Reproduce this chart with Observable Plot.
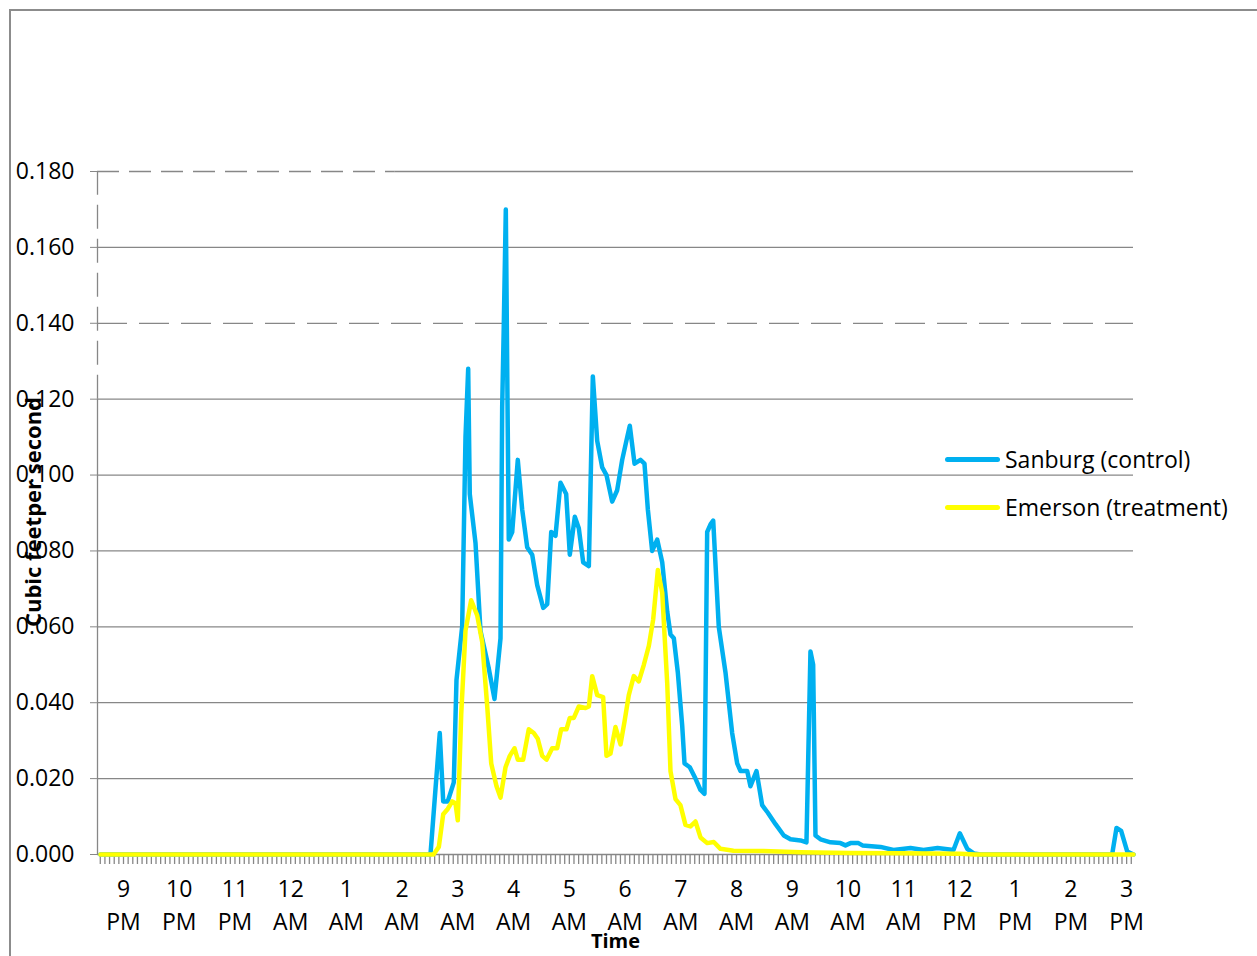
<!DOCTYPE html>
<html><head><meta charset="utf-8">
<script src="https://cdn.jsdelivr.net/npm/d3@7"></script>
<script src="https://cdn.jsdelivr.net/npm/@observablehq/plot@0.6"></script>
<style>
html,body{margin:0;padding:0;background:#fff;}
#wrap{position:relative;width:1257px;height:956px;overflow:hidden;font-family:"Open Sans",sans-serif;}
#frame{position:absolute;left:9px;top:9px;width:1300px;height:1000px;border-left:2px solid #8c8c8c;border-top:2px solid #8c8c8c;}
#chart{position:absolute;left:0;top:0;}
.leg{position:absolute;left:945px;height:32px;display:flex;align-items:center;font-size:23px;color:#000;white-space:nowrap;}
.sw{width:55px;height:5px;border-radius:3px;margin-right:5px;}
</style></head><body>
<div id="wrap"><div id="frame"></div><div id="chart"></div>
<div class="leg" style="top:443px"><div class="sw" style="background:#00B0F0"></div>Sanburg (control)</div>
<div class="leg" style="top:491px"><div class="sw" style="background:#FFFF00"></div>Emerson (treatment)</div>
</div>
<script>
// minutes after 9 PM
const sanburgMin = [-24.8, 330.5, 340.5, 344.2, 349.1, 355.6, 358.5, 364.6, 368.2, 371.1, 372.8, 379, 384.3, 393.3, 399.4, 405.9, 407.7, 409.4, 411.6, 413.7, 414.8, 418.5, 424.5, 429.2, 434.6, 440, 445.4, 451.9, 456.2, 460.5, 465.1, 470.5, 476.6, 480.5, 485.9, 490.2, 494.9, 501, 505.3, 510, 515.4, 520, 526.1, 531.5, 536.9, 542.3, 545.1, 550.2, 556.6, 560.9, 564.5, 569.2, 574.6, 580, 585.4, 588.9, 592.5, 596.8, 601.5, 604, 609.7, 615.8, 621.2, 625.5, 628.4, 632, 634.9, 640.9, 648.1, 655.3, 660.7, 664.3, 671.5, 675, 681.5, 687.6, 693.7, 702, 710.9, 718.1, 728.9, 735.3, 739.6, 742.5, 745, 750.4, 761.2, 771.9, 777.3, 782.7, 791.3, 795.6, 815, 829, 847.3, 861.3, 876.4, 893.6, 900.4, 908.4, 915.4, 922.6, 1064.4, 1069.1, 1074.1, 1080.6, 1087.4];
const sanburgCfs = [0, 0, 0.032, 0.014, 0.014, 0.019, 0.046, 0.060, 0.110, 0.128, 0.095, 0.082, 0.059, 0.049, 0.041, 0.057, 0.118, 0.139, 0.170, 0.112, 0.083, 0.085, 0.104, 0.091, 0.081, 0.079, 0.071, 0.065, 0.066, 0.085, 0.084, 0.098, 0.095, 0.079, 0.089, 0.086, 0.077, 0.076, 0.126, 0.109, 0.102, 0.100, 0.093, 0.096, 0.104, 0.110, 0.113, 0.103, 0.104, 0.103, 0.091, 0.080, 0.083, 0.077, 0.064, 0.058, 0.057, 0.048, 0.034, 0.024, 0.023, 0.020, 0.017, 0.016, 0.085, 0.087, 0.088, 0.060, 0.048, 0.032, 0.024, 0.022, 0.022, 0.018, 0.022, 0.013, 0.011, 0.008, 0.005, 0.004, 0.0037, 0.0032, 0.0535, 0.050, 0.005, 0.004, 0.0032, 0.003, 0.0024, 0.003, 0.003, 0.0024, 0.002, 0.0012, 0.0017, 0.0012, 0.0017, 0.0012, 0.0056, 0.0015, 0.0003, 0, 0, 0.007, 0.0062, 0.0008, 0];
const emersonMin = [-24.8, 333.7, 339.5, 344.2, 349.1, 353.9, 357.4, 359.9, 363.6, 368.2, 374.3, 380.8, 386.2, 391.6, 395.9, 401.6, 405.9, 411.3, 415.9, 421, 424.5, 430.3, 436.3, 441.7, 446, 450.8, 455.4, 461.5, 466.9, 471.2, 476.9, 480.5, 484.8, 490.2, 497.4, 501, 504.6, 510, 516.4, 520, 524.3, 529.7, 535.1, 539.4, 544, 549.4, 554.8, 560.2, 565.6, 570.3, 575.3, 580, 585.4, 588.9, 594.3, 599.6, 605, 610.4, 615.8, 621.2, 628.4, 635.5, 642.7, 656.7, 689, 728.9, 782.7, 836.5, 901.1, 917, 1087.4];
const emersonCfs = [0, 0, 0.002, 0.0106, 0.012, 0.014, 0.0135, 0.009, 0.037, 0.059, 0.067, 0.063, 0.056, 0.039, 0.024, 0.018, 0.015, 0.023, 0.026, 0.028, 0.025, 0.025, 0.033, 0.032, 0.0305, 0.026, 0.025, 0.028, 0.028, 0.033, 0.033, 0.036, 0.036, 0.039, 0.0386, 0.039, 0.047, 0.042, 0.0415, 0.026, 0.0266, 0.0336, 0.029, 0.035, 0.042, 0.047, 0.0456, 0.050, 0.055, 0.062, 0.075, 0.069, 0.045, 0.022, 0.0146, 0.013, 0.0078, 0.0074, 0.0087, 0.0045, 0.003, 0.0033, 0.0015, 0.001, 0.0009, 0.0006, 0.0004, 0.0003, 0.0002, 0, 0];
const hourLabels = ["9", "10", "11", "12", "1", "2", "3", "4", "5", "6", "7", "8", "9", "10", "11", "12", "1", "2", "3"];
const periodLabels = ["PM", "PM", "PM", "AM", "AM", "AM", "AM", "AM", "AM", "AM", "AM", "AM", "AM", "AM", "AM", "PM", "PM", "PM", "PM"];
const yTicks = [0, 0.02, 0.04, 0.06, 0.08, 0.10, 0.12, 0.14, 0.16, 0.18];

const sanburg = sanburgMin.map((m, i) => ({m, v: sanburgCfs[i]}));
const emerson = emersonMin.map((m, i) => ({m, v: emersonCfs[i]}));
const hourTicks = hourLabels.map((_, i) => i * 60);
const minorTicks = d3.range(-25, 1087, 5);
const xMin = -28, xMax = 1087.4;
const grid = "#878787";

const chart = Plot.plot({
  width: 1257, height: 956,
  marginLeft: 97, marginRight: 124, marginTop: 171, marginBottom: 102,
  x: {domain: [xMin, xMax], axis: null},
  y: {domain: [0, 0.18], axis: null},
  style: {fontFamily: "Open Sans", fontSize: "23px", color: "#000", background: "transparent", overflow: "visible"},
  marks: [
    Plot.ruleY([0.02, 0.04, 0.06, 0.08, 0.10, 0.12, 0.16], {x1: xMin, x2: xMax, stroke: grid, strokeWidth: 1.3}),
    Plot.ruleY([0.14], {x1: xMin, x2: xMax, stroke: grid, strokeWidth: 1.3, strokeDasharray: "30,12"}),
    Plot.ruleY([0.18], {x1: xMin, x2: 292, stroke: grid, strokeWidth: 1.3, strokeDasharray: "22,10"}),
    Plot.ruleY([0.18], {x1: 292, x2: xMax, stroke: grid, strokeWidth: 1.3}),
    Plot.ruleX([xMin], {y1: 0, y2: 0.12, stroke: grid, strokeWidth: 1.3}),
    Plot.ruleX([xMin], {y1: 0.12, y2: 0.18, stroke: grid, strokeWidth: 1.3, strokeDasharray: "24,10"}),
    Plot.ruleY([0], {x1: xMin, x2: xMax, stroke: grid, strokeWidth: 1.6}),
    Plot.axisY({ticks: yTicks, tickFormat: d3.format(".3f"), tickSize: 7, tickPadding: 16, stroke: grid, fill: "#000", fontSize: 23, label: null}),
    Plot.axisX({ticks: minorTicks, tickSize: 10, tickFormat: () => "", stroke: grid, strokeWidth: 1.3, label: null}),
    Plot.axisX({ticks: hourTicks, tickSize: 0, tickPadding: 26, tickFormat: (d, i) => hourLabels[i], fill: "#000", fontSize: 23, label: null}),
    Plot.axisX({ticks: hourTicks, tickSize: 0, tickPadding: 59, tickFormat: (d, i) => periodLabels[i], fill: "#000", fontSize: 23, label: null}),
    Plot.line(sanburg, {x: "m", y: "v", stroke: "#00B0F0", strokeWidth: 4.5, strokeLinejoin: "round"}),
    Plot.line(emerson, {x: "m", y: "v", stroke: "#FFFF00", strokeWidth: 4.5, strokeLinejoin: "round"}),
    Plot.text(["Cubic feetper second"], {frameAnchor: "left", textAnchor: "middle", text: d => d, rotate: -90, dx: -64, dy: -1, fontWeight: "bold", fontSize: 22, fill: "#000"}),
    Plot.text(["Time"], {frameAnchor: "bottom", text: d => d, dy: 93, fontWeight: "bold", fontSize: 20, fill: "#000"})
  ]
});
document.getElementById("chart").appendChild(chart);
</script>
</body></html>
